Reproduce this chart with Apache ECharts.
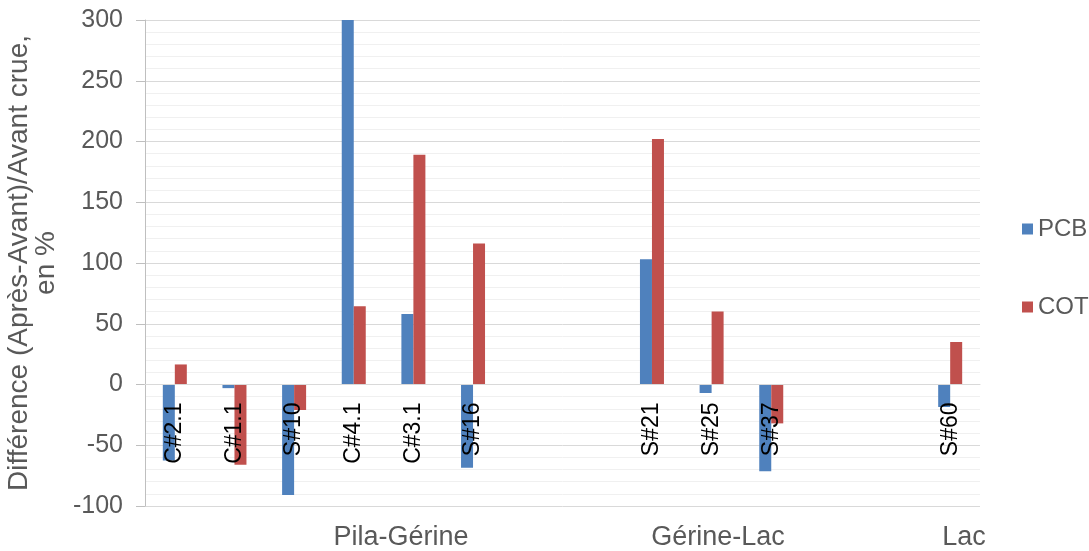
<!DOCTYPE html>
<html>
<head>
<meta charset="utf-8">
<script src="https://cdn.jsdelivr.net/npm/echarts@6/dist/echarts.min.js"></script>
<style>
html,body{margin:0;padding:0;background:#fff;}
#chart{width:1089px;height:551px;}
</style>
</head>
<body>
<div id="chart"></div>
<script>
const categories = ["C#2.1","C#1.1","S#10","C#4.1","C#3.1","S#16","","","S#21","S#25","S#37","","","S#60"];
const pcb = [-62.5, -3, -91, 300, 58, -68.5, null, null, 103, -7, -71.5, null, null, -18.5];
const cot = [16.5, -66, -21, 64.5, 189, 116, null, null, 202, 60, -32, null, null, 35];
const groupLabels = ["Pila-Gérine", "Gérine-Lac", "Lac"];
const groupCenters = [401, 718, 964];
const yTitle = "Différence (Après-Avant)/Avant crue,\nen %";

const FONT = "Liberation Sans, Arial, sans-serif";
const chart = echarts.init(document.getElementById('chart'), null, {renderer: 'canvas'});
const option = {
  animation: false,
  backgroundColor: '#ffffff',
  textStyle: {fontFamily: FONT},
  grid: {left: 145, right: 109, top: 20, bottom: 45, containLabel: false, outerBoundsMode: 'none'},
  legend: {
    orient: 'vertical',
    left: 1017,
    top: 212,
    itemWidth: 11,
    itemHeight: 11,
    itemGap: 54,
    icon: 'rect',
    textStyle: {fontSize: 24, color: '#595959', fontFamily: FONT, lineHeight: 24},
    data: ['PCB', 'COT']
  },
  xAxis: {
    type: 'category',
    data: categories,
    z: 10,
    position: 'bottom',
    offset: -121.5,
    axisLine: {onZero: false, lineStyle: {color: '#d9d9d9', width: 1}},
    axisTick: {show: false},
    axisLabel: {interval: 0, rotate: 90, margin: 18, fontSize: 23, color: '#000000', fontFamily: FONT},
    splitLine: {show: false}
  },
  yAxis: {
    type: 'value',
    min: -100,
    max: 300,
    interval: 50,
    name: yTitle,
    nameLocation: 'middle',
    nameRotate: 90,
    nameGap: 85,
    nameTextStyle: {fontSize: 28, color: '#595959', fontFamily: FONT, lineHeight: 27},
    axisLine: {show: true, lineStyle: {color: '#bfbfbf'}},
    axisTick: {show: true, length: 9, lineStyle: {color: '#bfbfbf'}},
    axisLabel: {fontSize: 25, color: '#595959', margin: 22, fontFamily: FONT},
    splitLine: {show: true, lineStyle: {color: '#d9d9d9', width: 1}},
    minorTick: {show: false, splitNumber: 5},
    minorSplitLine: {show: true, lineStyle: {color: '#f0f0f0', width: 1}}
  },
  series: [
    {name: 'PCB', type: 'bar', data: pcb, barWidth: 12, barGap: '0%',
     itemStyle: {color: '#4F81BD'}},
    {name: 'COT', type: 'bar', data: cot, barWidth: 12, barGap: '0%',
     itemStyle: {color: '#C0504D'}}
  ],
  graphic: groupLabels.map((t, i) => ({
    type: 'text',
    x: groupCenters[i],
    y: 538,
    style: {text: t, fontSize: 27, fill: '#595959', fontFamily: FONT, align: 'center', verticalAlign: 'middle'}
  }))
};
chart.setOption(option);
</script>
</body>
</html>
